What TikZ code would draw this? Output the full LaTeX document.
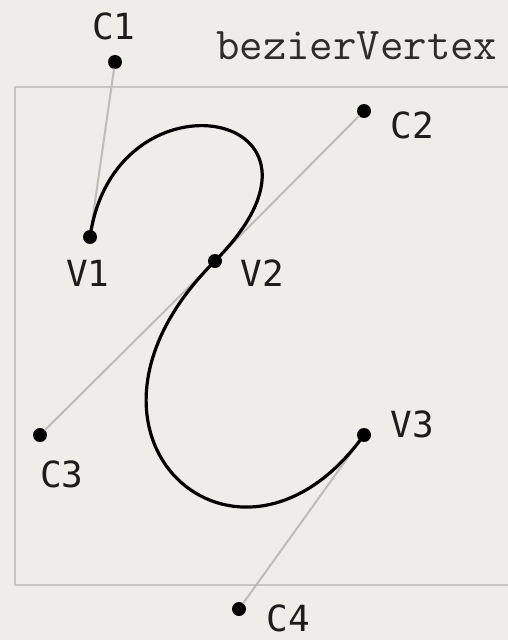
\documentclass[tikz,border=0pt]{standalone}
\usepackage{fontspec}
\newfontfamily\labelfont{DejaVu Sans Mono}
\definecolor{paper}{RGB}{239,237,233}
\definecolor{framegray}{RGB}{198,197,193}
\definecolor{handgray}{RGB}{188,188,185}
\definecolor{titlegray}{RGB}{45,45,43}
\definecolor{labelgray}{RGB}{28,28,28}

\begin{document}
\begin{tikzpicture}[x=1pt,y=-1pt,line cap=round,line join=round,
  dot/.style={circle,fill=black,minimum size=14pt,inner sep=0pt},
  ptlabel/.style={text=labelgray,inner sep=0pt,font=\labelfont\fontsize{36}{38}\selectfont},
  handle/.style={draw=handgray,line width=2pt},
  curve/.style={draw=black,line width=3.2pt}]
\path[use as bounding box,fill=paper] (0,0) rectangle (508,640);
\clip (0,0) rectangle (508,640);
\draw[framegray,line width=2.5pt] (530,87) -- (15,87) -- (15,585) -- (530,585);
% points
\node[dot] (c1) at (115,62) {};
\node[dot] (c2) at (364,111) {};
\node[dot] (v1) at (90,237) {};
\node[dot] (v2) at (215,261) {};
\node[dot] (c3) at (40,435) {};
\node[dot] (v3) at (364,435) {};
\node[dot] (c4) at (239,609) {};
% control handles
\draw[handle] (c1) -- (v1);
\draw[handle] (c2) -- (v2);
\draw[handle] (v2) -- (c3);
\draw[handle] (c4) -- (v3);
% the curve
\draw[curve] (v1.center) .. controls (c1.center) and (c2.center) .. (v2.center)
  .. controls (c3.center) and (c4.center) .. (v3.center);
% labels
\node[ptlabel] (c1lbl) at (114,26) {C1};
\node[ptlabel] (c2lbl) at (412,125) {C2};
\node[ptlabel] (v1lbl) at (88,273) {V1};
\node[ptlabel] (v2lbl) at (262,273) {V2};
\node[ptlabel] (c3lbl) at (62,474) {C3};
\node[ptlabel] (v3lbl) at (412,424) {V3};
\node[ptlabel] (c4lbl) at (288,618) {C4};
\node[anchor=base west,inner sep=0pt,text=titlegray,font=\ttfamily\fontsize{45.5}{47}\selectfont] (title) at (216,59) {bezierVertex};
\end{tikzpicture}
\end{document}
